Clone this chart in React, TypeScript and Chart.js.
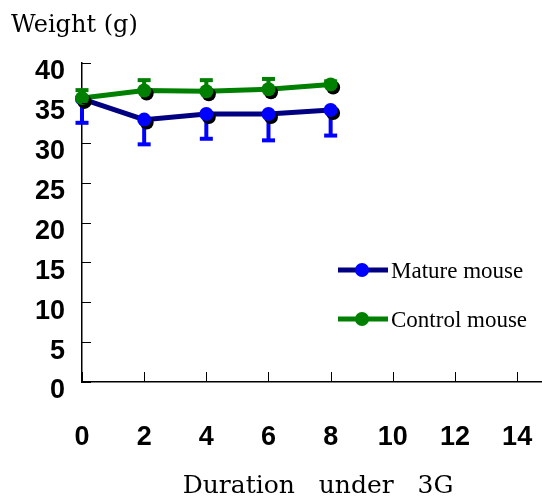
import React, { useEffect, useRef } from "react";
import { Chart, registerables } from "chart.js";

Chart.register(...registerables);

const days = [0, 2, 4, 6, 8];
const matureWeight = [35.5, 32.9, 33.6, 33.6, 34.1];
const matureErr = [3.0, 3.1, 3.1, 3.3, 3.2];
const controlWeight = [35.6, 36.55, 36.45, 36.7, 37.3];
const controlErr = [1.0, 1.3, 1.4, 1.3, 0.4];
const xTicks = [0, 2, 4, 6, 8, 10, 12, 14];
const yTicks = [0, 5, 10, 15, 20, 25, 30, 35, 40];
const seriesNames = ["Mature mouse", "Control mouse"];

const MATURE_LINE = "#000080";
const MATURE_MARK = "#0000FF";
const CONTROL = "#008000";

const decorPlugin = {
  id: "decor",
  beforeDatasetDraw(chart: any, args: any) {
    const ctx = chart.ctx;
    const ds = chart.data.datasets[args.index];
    const meta = args.meta;
    const yScale = chart.scales.y;
    const err: number[] = ds.errValues;
    const dir: number = ds.errDir;
    ctx.save();
    ctx.strokeStyle = ds.errColor;
    meta.data.forEach((pt: any, i: number) => {
      const v = ds.data[i].y;
      const yEnd = yScale.getPixelForValue(v + dir * err[i]);
      ctx.lineWidth = 4;
      ctx.beginPath();
      ctx.moveTo(pt.x, pt.y);
      ctx.lineTo(pt.x, yEnd);
      ctx.stroke();
      ctx.beginPath();
      ctx.moveTo(pt.x - 6.5, yEnd);
      ctx.lineTo(pt.x + 6.5, yEnd);
      ctx.stroke();
    });
    ctx.restore();
  },
  afterDatasetDraw(chart: any, args: any) {
    const ctx = chart.ctx;
    const ds = chart.data.datasets[args.index];
    const meta = args.meta;
    ctx.save();
    meta.data.forEach((pt: any) => {
      ctx.fillStyle = "#000";
      ctx.beginPath();
      ctx.arc(pt.x + 2.5, pt.y + 3, 7, 0, Math.PI * 2);
      ctx.fill();
      ctx.fillStyle = ds.pointBackgroundColor;
      ctx.beginPath();
      ctx.arc(pt.x, pt.y, 7, 0, Math.PI * 2);
      ctx.fill();
    });
    ctx.restore();
  },
  afterDraw(chart: any) {
    const ctx = chart.ctx;
    const { left, bottom } = chart.chartArea;
    const xs = chart.scales.x;
    const ys = chart.scales.y;
    ctx.save();
    ctx.strokeStyle = "#000";
    ctx.lineWidth = 1;
    xTicks.forEach((v) => {
      const px = Math.round(xs.getPixelForValue(v)) + 0.5;
      ctx.beginPath();
      ctx.moveTo(px, bottom);
      ctx.lineTo(px, bottom - 10);
      ctx.stroke();
    });
    yTicks.forEach((v) => {
      const py = Math.round(ys.getPixelForValue(v)) + 0.5;
      ctx.beginPath();
      ctx.moveTo(left, py);
      ctx.lineTo(left + 9, py);
      ctx.stroke();
    });
    ctx.fillStyle = "#000";
    ctx.textBaseline = "alphabetic";
    ctx.textAlign = "left";
    ctx.font = "24px 'DejaVu Serif'";
    ctx.fillText("Weight (g)", 11, 32);
    ctx.textAlign = "center";
    ctx.font = "25px 'DejaVu Serif'";
    ctx.fillText("Duration   under   3G", 318, 493);
    const items = [
      { name: seriesNames[0], line: MATURE_LINE, mark: MATURE_MARK, y: 270 },
      { name: seriesNames[1], line: CONTROL, mark: CONTROL, y: 319 },
    ];
    items.forEach((it) => {
      ctx.strokeStyle = it.line;
      ctx.lineWidth = 5;
      ctx.beginPath();
      ctx.moveTo(338, it.y);
      ctx.lineTo(388, it.y);
      ctx.stroke();
      ctx.fillStyle = it.mark;
      ctx.beginPath();
      ctx.arc(362, it.y, 7, 0, Math.PI * 2);
      ctx.fill();
      ctx.fillStyle = "#000";
      ctx.textAlign = "left";
      ctx.textBaseline = "middle";
      ctx.font = "23px 'Liberation Serif'";
      ctx.fillText(it.name, 391, it.y + 2);
    });
    ctx.restore();
  },
};

export default function App() {
  const ref = useRef<HTMLCanvasElement | null>(null);
  useEffect(() => {
    if (!ref.current) return;
    const chart = new Chart(ref.current, {
      type: "line",
      data: {
        datasets: [
          {
            label: seriesNames[0],
            data: days.map((d, i) => ({ x: d, y: matureWeight[i] })),
            borderColor: MATURE_LINE,
            backgroundColor: MATURE_MARK,
            pointBackgroundColor: MATURE_MARK,
            pointBorderColor: MATURE_MARK,
            borderWidth: 5,
            pointRadius: 0,
            tension: 0,
            order: 1,
            errValues: matureErr,
            errDir: -1,
            errColor: MATURE_MARK,
          } as any,
          {
            label: seriesNames[1],
            data: days.map((d, i) => ({ x: d, y: controlWeight[i] })),
            borderColor: CONTROL,
            backgroundColor: CONTROL,
            pointBackgroundColor: CONTROL,
            pointBorderColor: CONTROL,
            borderWidth: 5,
            pointRadius: 0,
            tension: 0,
            order: 0,
            errValues: controlErr,
            errDir: 1,
            errColor: CONTROL,
          } as any,
        ],
      },
      options: {
        animation: false,
        responsive: false,
        devicePixelRatio: 1,
        layout: { padding: { top: 63, right: 0, left: 0, bottom: 0 } },
        plugins: { legend: { display: false }, tooltip: { enabled: false } },
        scales: {
          x: {
            type: "linear",
            min: 0,
            max: 14.8,
            afterBuildTicks: (s: any) => {
              s.ticks = xTicks.map((v) => ({ value: v }));
            },
            afterFit: (s: any) => {
              s.height = 116;
              s.paddingLeft = 0;
              s.paddingRight = 0;
            },
            grid: { display: false, drawTicks: false },
            border: { display: true, color: "#000", width: 1.5 },
            ticks: {
              color: "#000",
              padding: 39,
              maxRotation: 0,
              autoSkip: false,
              font: { family: "'Liberation Sans'", size: 27, weight: "bold" },
            },
          },
          y: {
            type: "linear",
            min: 0,
            max: 40,
            afterBuildTicks: (s: any) => {
              s.ticks = yTicks.map((v) => ({ value: v }));
            },
            afterFit: (s: any) => {
              s.width = 82;
              s.paddingTop = 0;
              s.paddingBottom = 0;
            },
            grid: { display: false, drawTicks: false },
            border: { display: true, color: "#000", width: 1.5 },
            ticks: {
              color: "#000",
              padding: 17,
              labelOffset: 9,
              autoSkip: false,
              font: { family: "'Liberation Sans'", size: 27, weight: "bold" },
            },
          },
        },
      },
      plugins: [decorPlugin],
    } as any);
    return () => chart.destroy();
  }, []);
  return (
    <div style={{ position: "fixed", left: 0, top: 0, width: 542, height: 498, background: "#fff" }}>
      <canvas ref={ref} width={542} height={498} />
    </div>
  );
}
